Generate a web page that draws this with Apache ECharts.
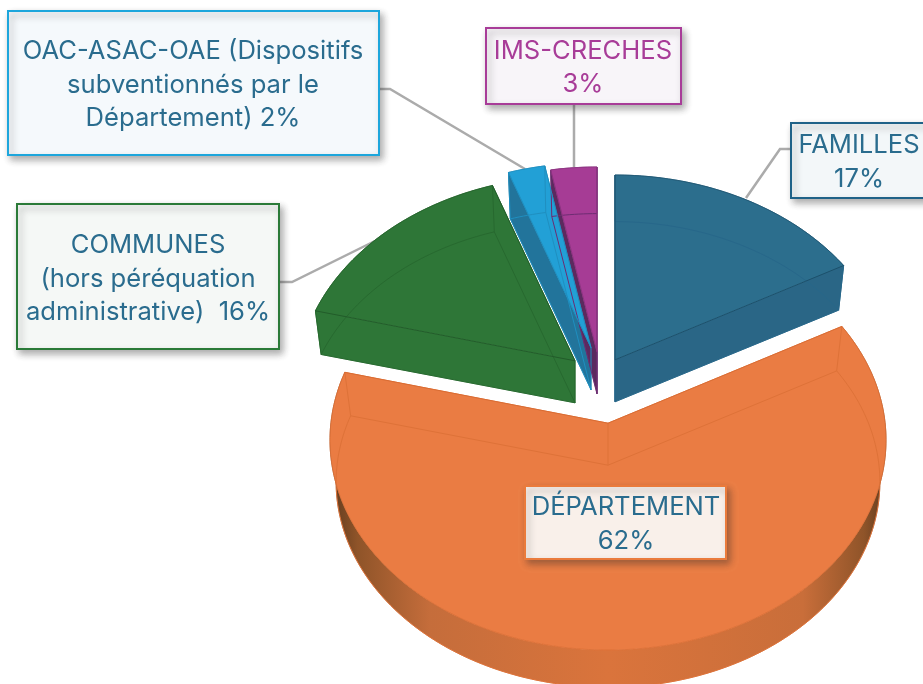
<!DOCTYPE html>
<html>
<head>
<meta charset="utf-8">
<style>html,body{margin:0;padding:0;background:#fff}#c{width:923px;height:684px}</style>
<script src="https://cdn.jsdelivr.net/npm/echarts@6/dist/echarts.min.js"></script>
</head>
<body>
<div id="c"></div>
<script>
// ---- data ----
const categories = ['FAMILLES', 'DÉPARTEMENT', 'COMMUNES', 'OAC-ASAC-OAE', 'IMS-CRECHES'];
const shares = [17, 62, 15.6, 2.4, 3];
const labelTexts = [
  'FAMILLES\n17%',
  'DÉPARTEMENT\n62%',
  'COMMUNES\n(hors péréquation\nadministrative)  16%',
  'OAC-ASAC-OAE (Dispositifs\nsubventionnés par le\nDépartement) 2%',
  'IMS-CRECHES\n3%'
];

// ---- pie geometry (perspective of the disc, explosion of each slice) ----
const disc = { cx: 608, cy: 440, rx: 278, ry: 210, depth: 42, floorScale: 0.978 };
const explodeX = [7, 0, -33, -17, -11];
const explodeY = [-55, 0, -54, -67, -63];
const tilt = [0.12, 0.08, 0.12, 0.12, 0.12];

// ---- styles ----
const topColors = ['#2c6e8d', '#ea7c43', '#2e7637', '#22a0d6', '#a63c95'];
const wallColors = ['#2a6686', '#ea7c43', '#2e7637', '#22749b', '#5b2a5f'];
const hiddenLines = ['#27678a', '#de7238', '#27692f', '#1f8fc0', '#6d2c72'];
const edgeLines = ['#1c506b', '#d96c33', '#225c2a', '#1f8fc0', '#8c3280'];
const rimWall = {
  type: 'linear', x: 0, y: 0, x2: 1, y2: 0,
  colorStops: [
    { offset: 0, color: '#5f3a1e' }, { offset: 0.05, color: '#8f5429' },
    { offset: 0.18, color: '#c56d3b' }, { offset: 0.5, color: '#da743c' },
    { offset: 0.85, color: '#c96e3a' }, { offset: 0.96, color: '#8f5429' },
    { offset: 1, color: '#5f3a1e' }
  ]
};

// label boxes: x, y, w, h, text centre x, text centre y
const boxes = [
  [791, 123, 140, 75, 859, 162.5],
  [525, 486, 201, 73, 626, 524.5],
  [17, 204, 262, 145, 148, 279],
  [8, 11, 371, 144, 193, 85],
  [486, 28, 195, 76, 583, 68]
];
const boxBorders = ['#1f6288', '#ea7b3c', '#2a7a38', '#1da6dc', '#a83c98'];
const boxFills = ['#f3f7f9', '#f9f0ea', '#f5f8f6', '#f5f9fc', '#f8f5f9'];
const textColors = ['#2a6c8e', '#2a6c8e', '#2a6c8e', '#2a6c8e', '#a83c98'];
const leaders = [
  [[791, 149], [780, 149], [746, 198]],
  null,
  [[280, 282], [292, 282], [387, 235]],
  [[379, 89], [390, 89], [525, 169]],
  [[574, 104], [574, 167]]
];

const total = shares.reduce((a, b) => a + b, 0);

function rimPoint(i, theta, floor) {
  const u = Math.sin(theta), v = Math.cos(theta), a = tilt[i];
  const d = 1 + a * v;
  const up = u * Math.sqrt(1 - a * a) / d, vp = (v + a) / d;
  return mapDisc(i, up, vp, floor);
}
function mapDisc(i, up, vp, floor) {
  const s = floor ? disc.floorScale : 1;
  return [
    disc.cx + explodeX[i] + up * disc.rx * s,
    disc.cy + explodeY[i] + (floor ? disc.depth : 0) - vp * disc.ry * s
  ];
}
function apexPoint(i, floor) {
  const y = disc.cy + explodeY[i] - tilt[i] * disc.ry + (floor ? disc.depth : 0);
  return [disc.cx + explodeX[i], y];
}
function arcPoints(i, t0, t1, floor) {
  const pts = [], n = Math.max(4, Math.ceil((t1 - t0) / 0.02));
  for (let k = 0; k <= n; k++) pts.push(rimPoint(i, t0 + (t1 - t0) * k / n, floor));
  return pts;
}
function poly(points, fill, z2) {
  return { type: 'polygon', z2: z2, shape: { points: points }, style: { fill: fill, stroke: fill, lineWidth: 0.5 }, silent: true };
}
function line(points, color, w, z2, op) {
  return { type: 'polyline', z2: z2, shape: { points: points }, style: { fill: null, stroke: color, lineWidth: w, opacity: op == null ? 1 : op }, silent: true };
}

function renderSlice(params, api) {
  const i = params.dataIndex;
  let before = 0;
  for (let k = 0; k < i; k++) before += shares[k];
  const value = api.value(0);
  const t0 = before / total * Math.PI * 2;
  const t1 = (before + value) / total * Math.PI * 2;
  const topArc = arcPoints(i, t0, t1, false);
  const floorArc = arcPoints(i, t0, t1, true);
  const apexT = apexPoint(i, false), apexF = apexPoint(i, true);
  const topStart = topArc[0], topEnd = topArc[topArc.length - 1];
  const flStart = floorArc[0], flEnd = floorArc[floorArc.length - 1];
  const outerFill = i === 1 ? rimWall : wallColors[i];
  const children = [
    poly(topArc.concat(floorArc.slice().reverse()), outerFill, 1),
    poly([apexT, topEnd, flEnd, apexF], wallColors[i], 2),
    poly([apexT, topStart, flStart, apexF], wallColors[i], 2),
    poly([apexT].concat(topArc), topColors[i], 3),
    line(floorArc, hiddenLines[i], 1, 4),
    line([flStart, apexF, flEnd], hiddenLines[i], 1, 4),
    line([apexT, apexF], hiddenLines[i], 1, 4),
    line([topStart, flStart], hiddenLines[i], 1, 4),
    line([topEnd, flEnd], hiddenLines[i], 1, 4),
    line([topStart, apexT, topEnd], edgeLines[i], 1, 5),
    line(topArc, edgeLines[i], 1, 5, 0.7)
  ];
  return { type: 'group', children: children };
}

const graphics = [];
categories.forEach(function (name, i) {
  if (leaders[i]) {
    graphics.push({
      type: 'polyline', z: 1, silent: true,
      shape: { points: leaders[i] },
      style: { fill: null, stroke: '#ababab', lineWidth: 2.5 }
    });
  }
  const b = boxes[i];
  graphics.push({
    type: 'rect', z: 10, silent: true,
    shape: { x: b[0], y: b[1], width: b[2], height: b[3] },
    style: {
      fill: boxFills[i], stroke: boxBorders[i], lineWidth: 2,
      shadowBlur: 7, shadowOffsetX: 3, shadowOffsetY: 4, shadowColor: 'rgba(40,40,40,0.38)'
    }
  });
  graphics.push({
    type: 'text', z: 11, silent: true, x: b[4], y: b[5],
    style: {
      text: labelTexts[i], fill: textColors[i],
      font: '400 25.6px Inter, "Open Sans", sans-serif',
      lineHeight: 33.5, align: 'center', verticalAlign: 'middle'
    }
  });
});

const chart = echarts.init(document.getElementById('c'), null, { renderer: 'canvas' });
chart.setOption({
  animation: false,
  backgroundColor: '#ffffff',
  graphic: graphics,
  series: [{
    type: 'custom',
    coordinateSystem: 'none',
    z: 2,
    silent: true,
    clip: false,
    data: shares.map(function (v, i) { return { name: categories[i], value: [v] }; }),
    renderItem: renderSlice
  }]
});
</script>
</body>
</html>
